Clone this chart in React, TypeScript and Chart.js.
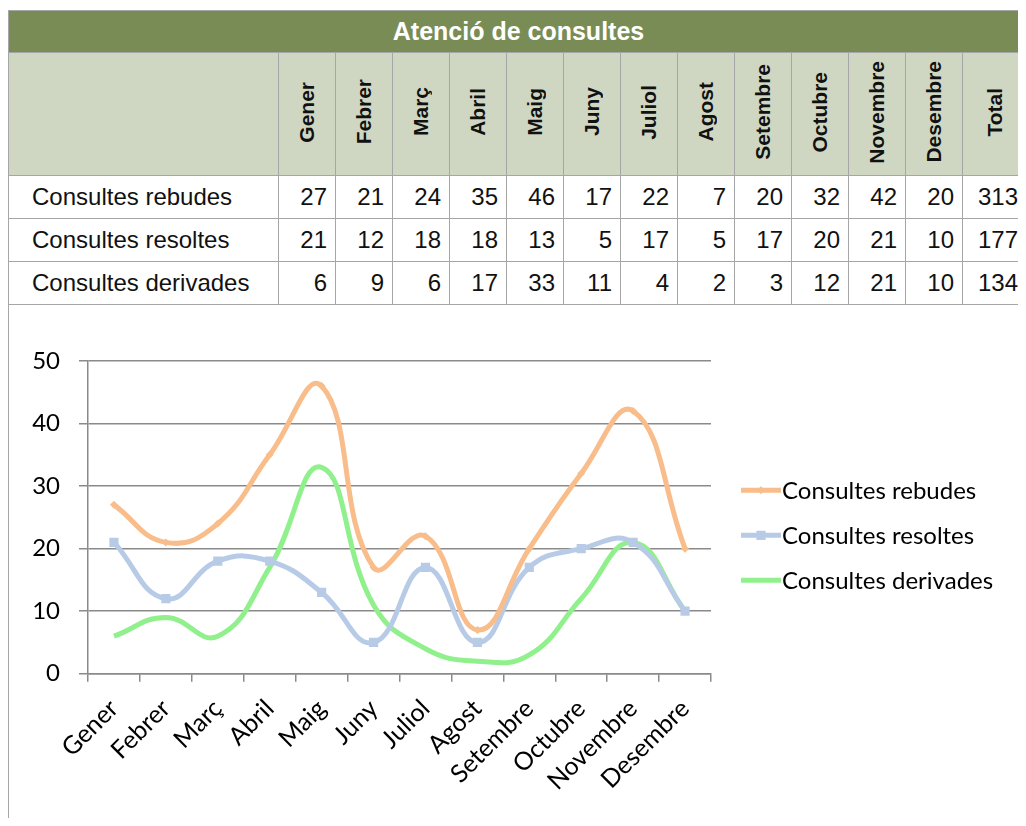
import React, { useEffect, useRef } from "react";
import { Chart, registerables } from "chart.js";

Chart.register(...registerables);

const title = "Atenció de consultes";
const months = ["Gener", "Febrer", "Març", "Abril", "Maig", "Juny", "Juliol", "Agost", "Setembre", "Octubre", "Novembre", "Desembre"];
const seriesNames = ["Consultes rebudes", "Consultes resoltes", "Consultes derivades"];
const rebudes = [27, 21, 24, 35, 46, 17, 22, 7, 20, 32, 42, 20];
const resoltes = [21, 12, 18, 18, 13, 5, 17, 5, 17, 20, 21, 10];
const derivades = [6, 9, 6, 17, 33, 11, 4, 2, 3, 12, 21, 10];
const totals = [313, 177, 134];
const totalLabel = "Total";
const yMin = 0;
const yMax = 50;
const yStep = 10;

const seriesValues = [rebudes, resoltes, derivades];
const seriesColors = ["#f8bd8a", "#b8cbe6", "#90f08c"];
const seriesPoints: any[] = [
  { style: "rectRot", radius: 4 },
  { style: "rect", radius: 6.5 },
  { style: false, radius: 0 },
];

const FONT = "Lato, 'Open Sans', sans-serif";
const TABLE_FONT = "'Liberation Sans', Arial, Helvetica, sans-serif";
const BORDER = "1px solid #a6a6a6";

const sideLegend = {
  id: "sideLegend",
  afterDraw(chart: any) {
    const { ctx, chartArea } = chart;
    const x0 = chartArea.right + 30;
    const cy = (chartArea.top + chartArea.bottom) / 2 + 18;
    const n = chart.data.datasets.length;
    chart.data.datasets.forEach((ds: any, i: number) => {
      const y = cy + (i - (n - 1) / 2) * 45;
      ctx.save();
      ctx.strokeStyle = ds.borderColor;
      ctx.lineWidth = 5;
      ctx.beginPath();
      ctx.moveTo(x0, y);
      ctx.lineTo(x0 + 40, y);
      ctx.stroke();
      if (ds.pointStyle) {
        ctx.fillStyle = ds.borderColor;
        const r = ds.pointRadius;
        const s = r / Math.SQRT2;
        ctx.translate(x0 + 20, y);
        if (ds.pointStyle === "rectRot") ctx.rotate(Math.PI / 4);
        ctx.fillRect(-s, -s, 2 * s, 2 * s);
      }
      ctx.restore();
      ctx.save();
      ctx.fillStyle = "#000";
      ctx.font = `24px ${FONT}`;
      ctx.textBaseline = "middle";
      ctx.textAlign = "left";
      ctx.fillText(ds.label, x0 + 41, y + 1);
      ctx.restore();
    });
  },
};

function LineChart() {
  const ref = useRef<HTMLCanvasElement>(null);
  useEffect(() => {
    if (!ref.current) return;
    const chart = new Chart(ref.current, {
      type: "line",
      data: {
        labels: months,
        datasets: seriesNames.map((name, i) => ({
          label: name,
          data: seriesValues[i],
          borderColor: seriesColors[i],
          backgroundColor: seriesColors[i],
          borderWidth: 5,
          tension: 0.45,
          pointStyle: seriesPoints[i].style,
          pointRadius: seriesPoints[i].radius,
          pointBorderWidth: 0,
          pointBackgroundColor: seriesColors[i],
          fill: false,
        })),
      },
      options: {
        animation: false,
        responsive: false,
        devicePixelRatio: 1,
        layout: { padding: { top: 56, right: 308, left: 0, bottom: 19 } },
        plugins: {
          legend: { display: false },
          tooltip: { enabled: false },
        },
        scales: {
          x: {
            offset: true,
            grid: {
              offset: true,
              drawOnChartArea: false,
              drawTicks: true,
              tickLength: 8,
              color: "#8a8a8a",
              lineWidth: 1.5,
            },
            border: { display: true, color: "#8a8a8a", width: 1.5 },
            ticks: {
              font: { family: FONT, size: 25 },
              color: "#000",
              minRotation: 45,
              maxRotation: 45,
              autoSkip: false,
              padding: 12,
            },
          },
          y: {
            min: yMin,
            max: yMax,
            afterFit(scale: any) {
              scale.width = 79;
            },
            grid: {
              color: "#8a8a8a",
              lineWidth: 1.5,
              tickLength: 9,
            },
            border: { display: true, color: "#8a8a8a", width: 1.5 },
            ticks: {
              stepSize: yStep,
              font: { family: FONT, size: 24 },
              color: "#000",
              padding: 19,
            },
          },
        },
      },
      plugins: [sideLegend],
    } as any);
    return () => chart.destroy();
  }, []);
  return <canvas ref={ref} width={1010} height={522} style={{ display: "block" }} />;
}

export default function App() {
  const cellNum: React.CSSProperties = {
    border: BORDER,
    textAlign: "right",
    padding: "0 8px 0 0",
    fontSize: 24,
    color: "#111",
    whiteSpace: "nowrap",
  };
  const cellLabel: React.CSSProperties = {
    border: BORDER,
    textAlign: "left",
    padding: "0 0 0 23px",
    fontSize: 24,
    color: "#111",
    whiteSpace: "nowrap",
  };
  const headCell: React.CSSProperties = {
    border: BORDER,
    background: "#cfd7c3",
    padding: 0,
    textAlign: "center",
    verticalAlign: "middle",
  };
  const vText: React.CSSProperties = {
    writingMode: "vertical-rl",
    transform: "rotate(180deg)",
    fontWeight: "bold",
    fontSize: 21,
    color: "#111",
    display: "inline-block",
  };
  return (
    <div style={{ paddingTop: 2, marginBottom: -10, width: 1018, overflow: "hidden" }}>
      <table
        style={{
          borderCollapse: "collapse",
          tableLayout: "fixed",
          width: 1020,
          fontFamily: TABLE_FONT,
        }}
      >
        <colgroup>
          <col style={{ width: 270 }} />
          {months.map((m) => (
            <col key={m} style={{ width: 57 }} />
          ))}
          <col style={{ width: 66 }} />
        </colgroup>
        <tbody>
          <tr style={{ height: 42 }}>
            <td
              colSpan={months.length + 2}
              style={{
                border: BORDER,
                background: "#7a8c55",
                color: "#fff",
                fontWeight: "bold",
                fontSize: 25,
                textAlign: "center",
                padding: 0,
              }}
            >
              {title}
            </td>
          </tr>
          <tr style={{ height: 123 }}>
            <td style={headCell}></td>
            {months.map((m) => (
              <td key={m} style={headCell}>
                <span style={vText}>{m}</span>
              </td>
            ))}
            <td style={{ ...headCell, textAlign: "left", paddingLeft: 20 }}>
              <span style={vText}>{totalLabel}</span>
            </td>
          </tr>
          {seriesNames.map((name, i) => (
            <tr key={name} style={{ height: 43 }}>
              <td style={cellLabel}>{name}</td>
              {seriesValues[i].map((v, j) => (
                <td key={j} style={cellNum}>
                  {v}
                </td>
              ))}
              <td style={{ ...cellNum, textAlign: "left", paddingLeft: 15 }}>{totals[i]}</td>
            </tr>
          ))}
        </tbody>
      </table>
      <div style={{ borderLeft: BORDER, height: 523, width: 1017 }}>
        <LineChart />
      </div>
    </div>
  );
}
